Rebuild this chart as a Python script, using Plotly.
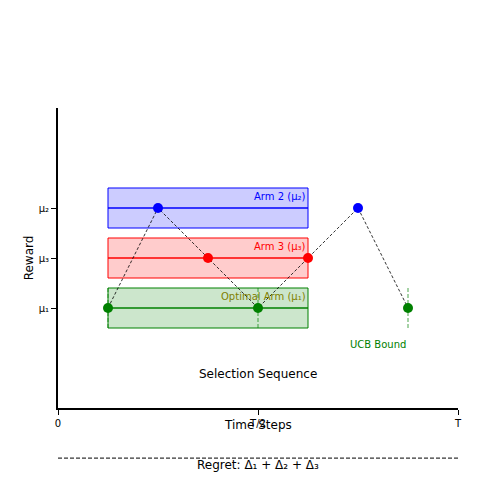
import plotly.graph_objects as go

# arm means (y values) and selection sequence
arm_names = ["Optimal Arm (μ₁)", "Arm 2 (μ₂)", "Arm 3 (μ₃)"]
arm_means = [1.0, 2.0, 1.5]
arm_colors = ["green", "blue", "red"]
arm_fills = ["rgba(0,128,0,0.2)", "rgba(0,0,255,0.2)", "rgba(255,0,0,0.2)"]
band_x = [0.125, 0.625]
band_half = 0.2

seq_x = [0.125, 0.25, 0.375, 0.5, 0.625, 0.75, 0.875]
seq_arm = [0, 1, 2, 0, 2, 1, 0]
ucb_x = [0.125, 0.5, 0.875]

tick_vals_x = [0, 0.5, 1]
tick_text_x = ["0", "T/2", "T"]
tick_vals_y = [1.0, 1.5, 2.0]
tick_text_y = ["μ₁", "μ₃", "μ₂"]

fig = go.Figure()

for i in range(3):
    m = arm_means[i]
    fig.add_shape(type="rect", x0=band_x[0], x1=band_x[1], y0=m - band_half, y1=m + band_half,
                  fillcolor=arm_fills[i], line=dict(color=arm_colors[i], width=1), opacity=1, layer="below")
    fig.add_trace(go.Scatter(x=band_x, y=[m, m], mode="lines", line=dict(color=arm_colors[i], width=1.5),
                             hoverinfo="skip"))
    fig.add_annotation(x=band_x[1], y=m + band_half, text=arm_names[i], showarrow=False,
                       xanchor="right", yanchor="top", yshift=-1,
                       font=dict(size=10, color="olive" if i == 0 else arm_colors[i]))

# UCB bound dashed lines
for ux in ucb_x:
    fig.add_trace(go.Scatter(x=[ux, ux], y=[0.8, 1.2], mode="lines",
                             line=dict(color="green", width=1, dash="4px,2px"), opacity=0.7, hoverinfo="skip"))

seq_y = [arm_means[a] for a in seq_arm]
fig.add_trace(go.Scatter(x=seq_x, y=seq_y, mode="lines", line=dict(color="black", width=0.8, dash="3px,2px")))
fig.add_trace(go.Scatter(x=seq_x, y=seq_y, mode="markers",
                         marker=dict(color=[arm_colors[a] for a in seq_arm], size=10)))

fig.add_annotation(x=0.5, y=0.34, text="Selection Sequence", showarrow=False, font=dict(size=12, color="black"))
fig.add_annotation(x=0.8, y=0.64, text="UCB Bound", showarrow=False, font=dict(size=10, color="green"))
fig.add_annotation(x=0.5, y=-0.087, xref="paper", yref="paper", text="Time Steps", showarrow=False,
                   font=dict(size=12, color="black"))
fig.add_shape(type="line", xref="paper", yref="paper", x0=0, x1=1, y0=-0.167, y1=-0.167,
              line=dict(color="black", width=1, dash="4px,2px"))
fig.add_annotation(x=0.5, y=-0.22, xref="paper", yref="paper", text="Regret: Δ₁ + Δ₂ + Δ₃", showarrow=False,
                   font=dict(size=12, color="black"))

fig.update_xaxes(range=[0, 1], tickvals=tick_vals_x, ticktext=tick_text_x, showgrid=False, zeroline=False,
                 showline=True, linecolor="black", linewidth=2, ticks="outside", ticklen=5, tickcolor="black",
                 tickfont=dict(size=10, color="black"), automargin=False)
fig.update_yaxes(range=[0, 3], tickvals=tick_vals_y, ticktext=tick_text_y, showgrid=False, zeroline=False,
                 showline=True, linecolor="black", linewidth=2, ticks="outside", ticklen=5, tickcolor="black",
                 tickfont=dict(size=10, color="black"), automargin=False,
                 title=dict(text="Reward", font=dict(size=12, color="black"), standoff=2))

fig.update_layout(width=500, height=500, margin=dict(l=50, r=50, t=100, b=100), showlegend=False,
                  plot_bgcolor="white", paper_bgcolor="white", font=dict(family="DejaVu Sans", color="black"))
fig.write_html("out.html")
